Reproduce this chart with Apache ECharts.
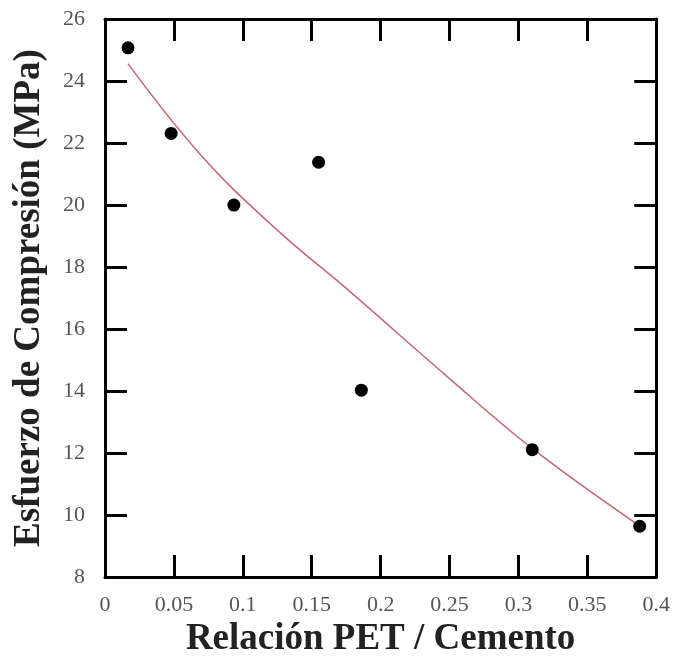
<!DOCTYPE html>
<html>
<head>
<meta charset="utf-8">
<script src="https://cdn.jsdelivr.net/npm/echarts@6/dist/echarts.min.js"></script>
<style>html,body{margin:0;padding:0;background:#fff;}#c{width:673px;height:663px;}</style>
</head>
<body>
<div id="c"></div>
<script>
const pointsX = [0.0167, 0.048, 0.0935, 0.155, 0.186, 0.310, 0.388];
const pointsY = [25.07, 22.31, 20.0, 21.38, 14.03, 12.11, 9.64];
const fitX = [0.0167, 0.069, 0.124, 0.178, 0.25, 0.31, 0.386];
const fitY = [24.56, 21.64, 19.23, 17.2, 14.4, 12.15, 9.71];
const xTitle = 'Relación PET / Cemento';
const yTitle = 'Esfuerzo de Compresión (MPa)';

const chart = echarts.init(document.getElementById('c'));
const font = 'Liberation Serif, Times New Roman, serif';
const mkLine = () => ({show: true, onZero: false, lineStyle: {color: '#000', width: 3}});
const mkTick = () => ({show: true, inside: true, length: 22, lineStyle: {color: '#000', width: 3}});
chart.setOption({
  animation: false,
  backgroundColor: '#fff',
  grid: {left: 105, right: 16, top: 19, bottom: 83},
  xAxis: [
    {type: 'value', min: 0, max: 0.4, interval: 0.05, position: 'bottom',
     axisLine: mkLine(), axisTick: mkTick(), splitLine: {show: false},
     axisLabel: {color: '#555', fontFamily: font, fontSize: 22, margin: 17},
     name: xTitle, nameLocation: 'middle', nameGap: 40,
     nameTextStyle: {color: '#222', fontFamily: font, fontSize: 37, fontWeight: 'bold'}},
    {type: 'value', min: 0, max: 0.4, interval: 0.05, position: 'top',
     axisLine: mkLine(), axisTick: mkTick(), splitLine: {show: false}, axisLabel: {show: false}}
  ],
  yAxis: [
    {type: 'value', min: 8, max: 26, interval: 2, position: 'left',
     axisLine: mkLine(), axisTick: mkTick(), splitLine: {show: false},
     axisLabel: {color: '#555', fontFamily: font, fontSize: 22, margin: 20},
     name: yTitle, nameLocation: 'middle', nameGap: 57,
     nameTextStyle: {color: '#222', fontFamily: font, fontSize: 37, fontWeight: 'bold'}},
    {type: 'value', min: 8, max: 26, interval: 2, position: 'right',
     axisLine: mkLine(), axisTick: mkTick(), splitLine: {show: false}, axisLabel: {show: false}}
  ],
  series: [
    {type: 'line', data: fitX.map((x, i) => [x, fitY[i]]), smooth: 0.4, showSymbol: false,
     lineStyle: {color: '#c46a78', width: 1.6}, z: 2},
    {type: 'scatter', data: pointsX.map((x, i) => [x, pointsY[i]]), symbol: 'circle', symbolSize: 13,
     itemStyle: {color: '#000', opacity: 1}, z: 3}
  ]
});
</script>
</body>
</html>
